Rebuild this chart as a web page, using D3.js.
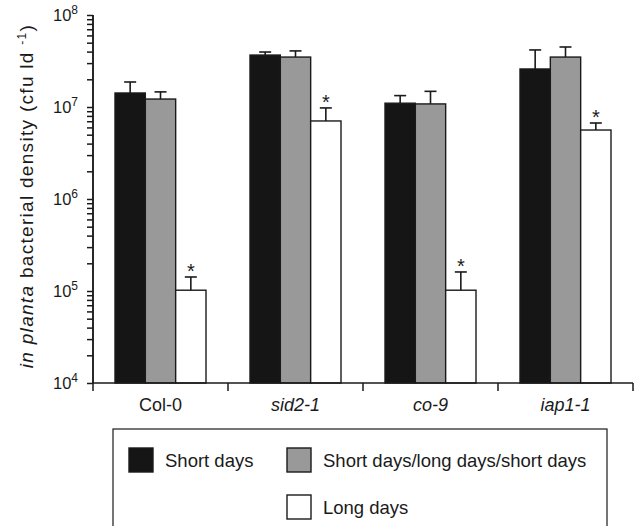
<!DOCTYPE html>
<html>
<head>
<meta charset="utf-8">
<script src="https://cdn.jsdelivr.net/npm/d3@7"></script>
<style>
  body { margin: 0; background: #fff; }
  text { font-family: "Liberation Sans", Arial, sans-serif; fill: #1a1a1a; }
</style>
</head>
<body>
<div id="chart"></div>
<script>
// data
const genotypes = ["Col-0", "sid2-1", "co-9", "iap1-1"];
const italicGenotype = [false, true, true, true];
const seriesNames = ["Short days", "Short days/long days/short days", "Long days"];
const seriesColors = ["#151515", "#999999", "#ffffff"];
const shortDays = [1.42e7, 3.67e7, 1.1e7, 2.59e7];
const shortDaysErr = [1.87e7, 3.96e7, 1.33e7, 4.17e7];
const switchDays = [1.22e7, 3.49e7, 1.08e7, 3.49e7];
const switchDaysErr = [1.46e7, 4.07e7, 1.48e7, 4.49e7];
const longDays = [1.02e5, 7.05e6, 1.02e5, 5.62e6];
const longDaysErr = [1.42e5, 9.77e6, 1.61e5, 6.7e6];
const significant = [true, true, true, true]; // asterisk over long days
const yTickPowers = [4, 5, 6, 7, 8];

const width = 638, height = 526;
const margin = {top: 15, right: 5, bottom: 143, left: 93};
const innerW = 540, innerH = 368;

const svg = d3.select("#chart").append("svg")
    .attr("width", width)
    .attr("height", height);

const g = svg.append("g")
    .attr("transform", `translate(${margin.left},${margin.top})`);

// scales
const x = d3.scaleBand().domain(genotypes).range([0, innerW]);
const xSub = d3.scaleBand().domain([0, 1, 2]).range([0, 91]);
const y = d3.scaleLog().domain([1e4, 1e8]).range([innerH, 0]);

const rows = [];
genotypes.forEach((gt, i) => {
    rows.push({gt, s: 0, v: shortDays[i], e: shortDaysErr[i], star: false});
    rows.push({gt, s: 1, v: switchDays[i], e: switchDaysErr[i], star: false});
    rows.push({gt, s: 2, v: longDays[i], e: longDaysErr[i], star: significant[i]});
});

const barX = d => x(d.gt) + (x.bandwidth() - 91) / 2 + xSub(d.s);

// error bars (upper only)
const err = g.append("g").attr("class", "errors")
    .attr("stroke", "#1a1a1a").attr("stroke-width", 1.6);
rows.forEach(d => {
    const cx = barX(d) + xSub.bandwidth() / 2;
    err.append("line").attr("x1", cx).attr("x2", cx)
        .attr("y1", y(d.v)).attr("y2", y(d.e));
    err.append("line").attr("x1", cx - 6).attr("x2", cx + 6)
        .attr("y1", y(d.e)).attr("y2", y(d.e));
});

// bars
g.selectAll("rect.bar")
    .data(rows)
    .enter().append("rect")
    .attr("class", "bar")
    .attr("x", barX)
    .attr("width", xSub.bandwidth())
    .attr("y", d => y(d.v))
    .attr("height", d => innerH - y(d.v))
    .attr("fill", d => seriesColors[d.s])
    .attr("stroke", "#1a1a1a")
    .attr("stroke-width", 1.4);

// asterisks
g.selectAll("text.star")
    .data(rows.filter(d => d.star))
    .enter().append("text")
    .attr("class", "star")
    .attr("x", d => barX(d) + xSub.bandwidth() / 2)
    .attr("y", d => y(d.e) + 1)
    .attr("text-anchor", "middle")
    .style("font-size", "20px")
    .text("*");

// y axis with log ticks
const minorTicks = [];
for (let p = 4; p < 8; p++) for (let m = 2; m <= 9; m++) minorTicks.push(m * Math.pow(10, p));

const yAxisG = g.append("g").attr("class", "y-axis");
yAxisG.call(d3.axisLeft(y).tickValues(minorTicks).tickSize(6).tickFormat(""));
yAxisG.append("g").call(d3.axisLeft(y)
    .tickValues(yTickPowers.map(p => Math.pow(10, p)))
    .tickSize(6).tickPadding(4).tickFormat(""));
yAxisG.selectAll("path, line").attr("stroke", "#1a1a1a").attr("stroke-width", 1.5);
yAxisG.selectAll("path.domain").attr("d", `M-0,${innerH}V0`);

yTickPowers.forEach(p => {
    const t = yAxisG.append("text")
        .attr("x", -15)
        .attr("y", y(Math.pow(10, p)) + 6)
        .attr("text-anchor", "end")
        .style("font-size", "16.5px");
    t.append("tspan").text("10");
    t.append("tspan").attr("dy", -7).style("font-size", "12px").text(p);
});

// x axis
const xAxisG = g.append("g").attr("class", "x-axis")
    .attr("transform", `translate(0,${innerH})`);
xAxisG.append("line").attr("x1", 0).attr("x2", innerW)
    .attr("stroke", "#1a1a1a").attr("stroke-width", 1.5);
d3.range(5).forEach(i => {
    const xx = i * x.step();
    xAxisG.append("line").attr("x1", xx).attr("x2", xx)
        .attr("y1", 0).attr("y2", 8)
        .attr("stroke", "#1a1a1a").attr("stroke-width", 1.5);
});
xAxisG.selectAll("text.cat")
    .data(genotypes)
    .enter().append("text")
    .attr("class", "cat")
    .attr("x", d => x(d) + x.bandwidth() / 2)
    .attr("y", 28)
    .attr("text-anchor", "middle")
    .style("font-size", "18px")
    .style("font-style", (d, i) => italicGenotype[i] ? "italic" : "normal")
    .text(d => d);

// y axis label
const yl = svg.append("text")
    .attr("transform", `translate(33,196) rotate(-90)`)
    .attr("text-anchor", "middle")
    .style("font-size", "19px")
    .style("letter-spacing", "1.3px");
yl.append("tspan").style("font-style", "italic").text("in planta");
yl.append("tspan").text(" bacterial density (cfu ld ");
yl.append("tspan").attr("dy", -7).style("font-size", "12px").text("-1");
yl.append("tspan").attr("dy", 7).text(")");

// legend
const legend = svg.append("g").attr("class", "legend");
legend.append("rect")
    .attr("x", 113).attr("y", 429)
    .attr("width", 494).attr("height", 110)
    .attr("fill", "none").attr("stroke", "#1a1a1a").attr("stroke-width", 1.2);

const legendPos = [[129, 448], [287, 448], [287, 495]];
seriesNames.forEach((name, i) => {
    const [lx, ly] = legendPos[i];
    legend.append("rect")
        .attr("x", lx).attr("y", ly)
        .attr("width", 24).attr("height", 24)
        .attr("fill", seriesColors[i])
        .attr("stroke", "#1a1a1a").attr("stroke-width", 1.4);
    legend.append("text")
        .attr("x", lx + 36).attr("y", ly + 19)
        .style("font-size", "18.5px")
        .text(name);
});
</script>
</body>
</html>
